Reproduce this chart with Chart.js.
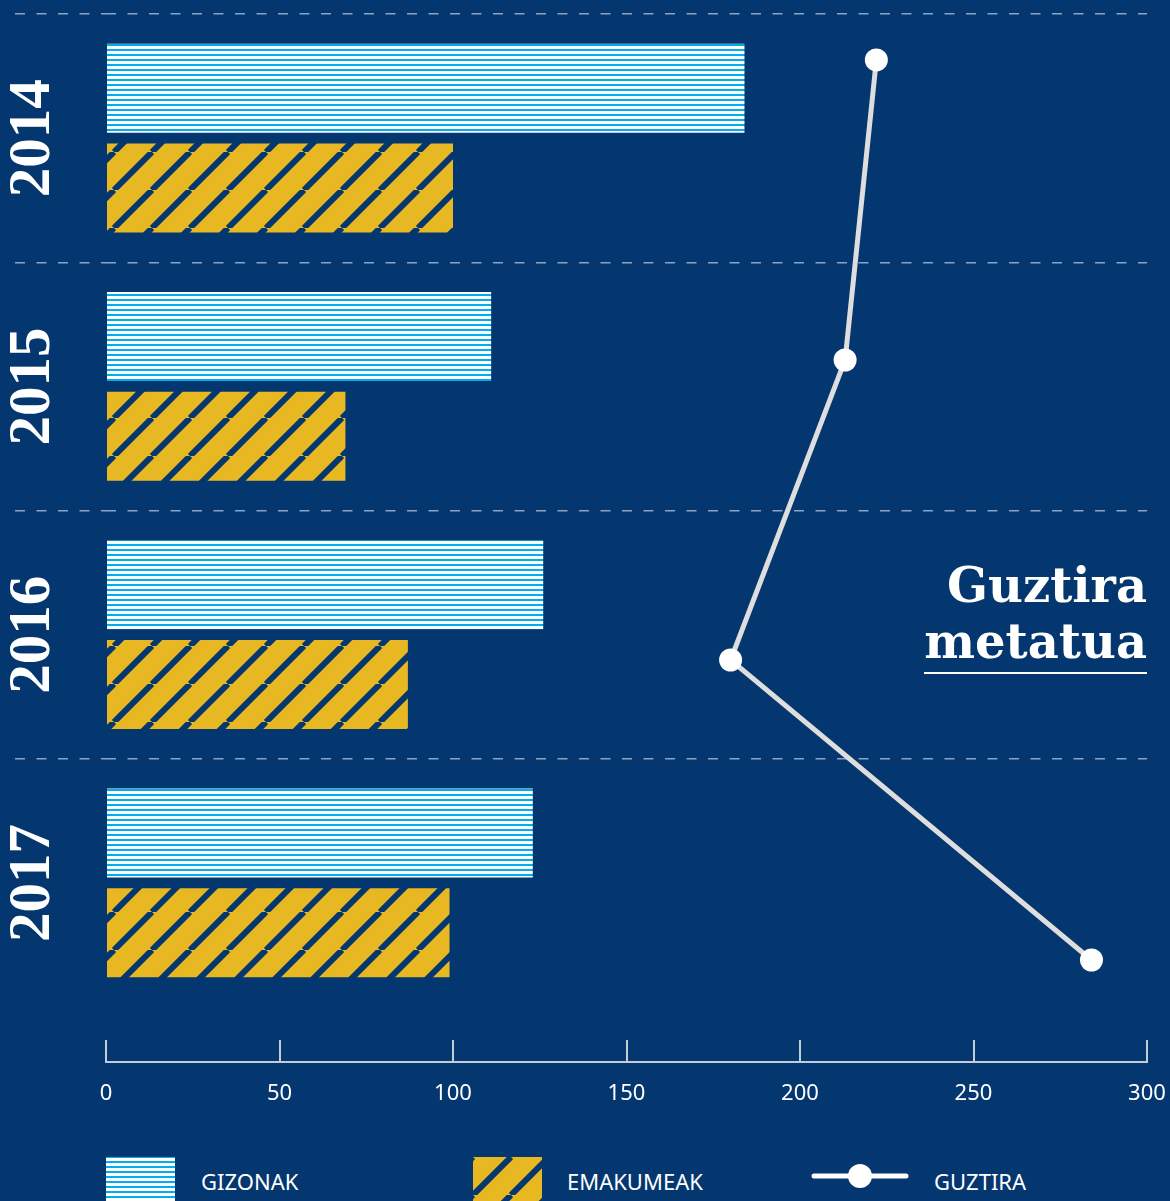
<!DOCTYPE html>
<html>
<head>
<meta charset="utf-8">
<script src="https://cdn.jsdelivr.net/npm/chart.js@4.4.1/dist/chart.umd.min.js"></script>
<style>
  html, body { margin: 0; padding: 0; background: #04366f; width: 1170px; height: 1201px; overflow: hidden; }
  #wrap { position: relative; width: 1170px; height: 1201px; }
  #c { position: absolute; left: 0; top: 0; }
  .note { position: absolute; right: 23px; top: 557px; font: bold 48px "DejaVu Serif"; line-height: 56px; color: #fff;
          text-align: right; border-bottom: 2px solid #fff; padding-bottom: 3px; }
  #legend { position: absolute; left: 0; top: 1157px; width: 1170px; height: 48px; font: 22px "Noto Sans"; color: #fff; }
  .item { position: absolute; top: 0; height: 48px; display: flex; align-items: center; white-space: nowrap; }
  .item canvas { display: block; }
</style>
</head>
<body>
<div id="wrap">
  <canvas id="c" width="1170" height="1130"></canvas>
  <div class="note">Guztira<br>metatua</div>
  <div id="legend"></div>
</div>
<script>
const categories = ['2014', '2015', '2016', '2017'];
const gizonak = [184, 111, 126, 123];
const emakumeak = [100, 69, 87, 99];
const guztira = [284, 180, 213, 222];

const navy = '#04366f';
const gridGrey = '#8fa2bf';
const axisGrey = '#c3ccd9';

// white / cyan horizontal stripes
function stripes() {
  const c = document.createElement('canvas');
  c.width = 10; c.height = 5;
  const g = c.getContext('2d');
  g.fillStyle = '#ffffff'; g.fillRect(0, 0, 10, 5);
  g.fillStyle = '#00aeef'; g.fillRect(0, 4, 10, 3); g.fillRect(0, 0, 10, 1);
  return g.createPattern(c, 'repeat');
}

// yellow with navy diagonal hatch
function hatch() {
  const s = 38;
  const c = document.createElement('canvas');
  c.width = s; c.height = s;
  const g = c.getContext('2d');
  g.fillStyle = '#e7b821'; g.fillRect(0, 0, s, s);
  g.strokeStyle = navy; g.lineWidth = 6;
  for (const k of [-1, 0, 1]) {
    g.beginPath(); g.moveTo(k * s, s); g.lineTo(k * s + s, 0); g.stroke();
  }
  return g.createPattern(c, 'repeat');
}

const menFill = stripes();
const womenFill = hatch();

// bands of 248.25px inside a 1048px tall plot
const band = 248.25;
const yMax = 1048 / band;

const isBand = c => !!c.tick && c.tick.value < 4;

// the line sits on its own axis (y2); Chart.js 4.5 then splits each bar group
// by axis count, so line goes first and the bar group is widened to compensate
const barOpts = { borderWidth: 0, categoryPercentage: 1.611, barPercentage: 0.89 };

const chart = new Chart(document.getElementById('c'), {
  type: 'bar',
  data: {
    datasets: [
      {
        type: 'line',
        label: 'GUZTIRA',
        data: guztira.map((v, i) => ({ x: v, y: i })),
        yAxisID: 'y2',
        order: -1,
        borderColor: '#dedede',
        borderWidth: 5,
        pointRadius: 11.5,
        pointHoverRadius: 11.5,
        pointBackgroundColor: '#ffffff',
        pointBorderWidth: 0,
        tension: 0
      },
      {
        label: 'GIZONAK',
        data: gizonak.map((v, i) => ({ x: v, y: i + 0.5 })),
        backgroundColor: menFill,
        ...barOpts
      },
      {
        label: 'EMAKUMEAK',
        data: emakumeak.map((v, i) => ({ x: v, y: i + 0.5 })),
        backgroundColor: womenFill,
        ...barOpts
      }
    ]
  },
  options: {
    indexAxis: 'y',
    responsive: false,
    animation: false,
    devicePixelRatio: 1,
    layout: { padding: { top: 14, right: 23, bottom: 0, left: 0 } },
    plugins: { legend: { display: false }, tooltip: { enabled: false } },
    scales: {
      x: {
        type: 'linear',
        position: 'bottom',
        min: 0, max: 300,
        ticks: { stepSize: 50, color: '#ffffff', font: { family: 'Noto Sans', size: 22 }, padding: 41 },
        grid: { drawOnChartArea: false, drawTicks: true, tickLength: -22, color: axisGrey, lineWidth: 2 },
        border: { display: true, color: axisGrey, width: 2 },
        afterFit(s) { s.height = 1130 - 1062; s.paddingLeft = 0; s.paddingRight = 0; }
      },
      y: {
        type: 'linear',
        reverse: true,
        offset: false,
        min: 0, max: yMax,
        afterBuildTicks(s) {
          s.ticks = [0, 1, 2, 3, 4].map(v => ({ value: v }));
        },
        ticks: {
          callback: v => categories[v] || '',
          color: '#ffffff',
          font: { family: 'Liberation Serif', size: 59, weight: 'bold' },
          minRotation: 90, maxRotation: 90,
          crossAlign: 'center',
          labelOffset: band / 2,
          padding: -78
        },
        grid: {
          offset: false,
          color: c => (isBand(c) ? gridGrey : 'rgba(0,0,0,0)'),
          tickColor: c => (isBand(c) ? gridGrey : 'rgba(0,0,0,0)'),
          lineWidth: 1.5,
          tickWidth: 1.5,
          tickLength: 91,
          tickBorderDash: [10, 11.5]
        },
        border: { display: false, dash: [10, 11.5] },
        afterFit(s) { s.width = 106; s.paddingTop = 0; s.paddingBottom = 0; }
      },
      y2: {
        type: 'linear',
        display: false,
        offset: false,
        grid: { offset: false },
        min: -0.34, max: 3.1533
      }
    }
  }
});

// html legend: bars first, then the line
const legendEl = document.getElementById('legend');
const legendX = [106, 473, 811];
const legendSets = [...chart.data.datasets].sort((a, b) => (a.type === 'line') - (b.type === 'line'));
legendSets.forEach((ds, i) => {
  const item = document.createElement('div');
  item.className = 'item';
  item.style.left = legendX[i] + 'px';
  const sw = document.createElement('canvas');
  const g = sw.getContext('2d');
  if (ds.type === 'line') {
    sw.width = 98; sw.height = 48;
    g.strokeStyle = '#ffffff'; g.lineWidth = 5; g.lineCap = 'round';
    g.beginPath(); g.moveTo(3, 19); g.lineTo(95, 19); g.stroke();
    g.fillStyle = '#ffffff';
    g.beginPath(); g.arc(49, 19, 12, 0, Math.PI * 2); g.fill();
  } else {
    sw.width = 69; sw.height = 48;
    g.fillStyle = ds.backgroundColor; g.fillRect(0, 0, 69, 48);
  }
  const txt = document.createElement('span');
  txt.textContent = ds.label;
  txt.style.marginLeft = (i === 0 ? 26 : 25) + 'px';
  item.appendChild(sw);
  item.appendChild(txt);
  legendEl.appendChild(item);
});
</script>
</body>
</html>
